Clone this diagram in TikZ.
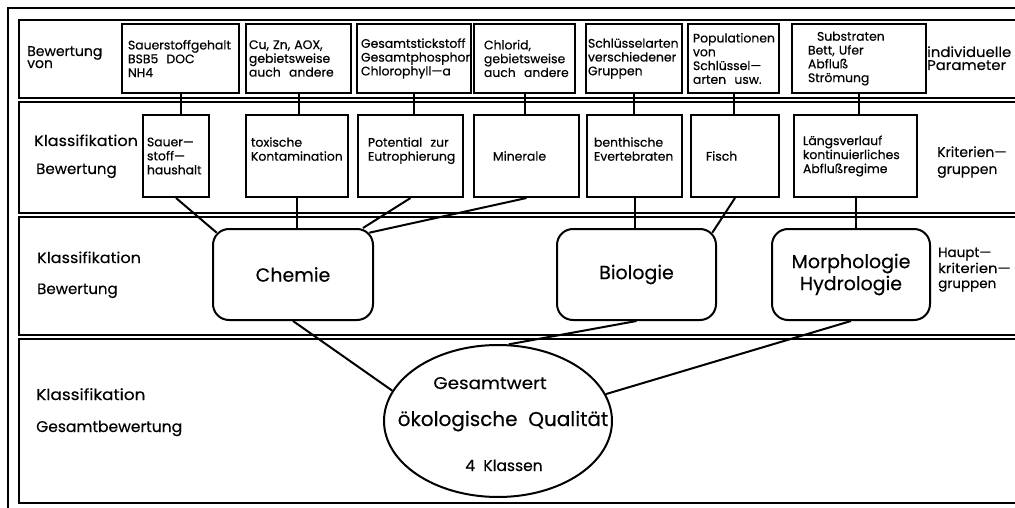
\documentclass[tikz,border=0pt]{standalone}
\usepackage{graphicx}
\usepackage{fontspec}
\setmainfont{Poppins}[FakeBold=0.25]
\newfontfamily\boxfont{Poppins}[FakeBold=0.45]
\usetikzlibrary{calc,shapes.geometric}

% horizontal stretch of a single label
\newcommand\hstretch[2]{\scalebox{#1}[1]{#2}}
\newcommand\nohyph{\hyphenpenalty10000\relax}

\tikzset{
  frame/.style={draw, line width=2pt},
  param/.style={draw, rectangle, line width=2pt, minimum height=69pt,
    inner ysep=0pt, align=left,
    font={\boxfont\fontsize{12.4}{13.8}\selectfont\nohyph}},
  crit/.style={draw, rectangle, line width=2pt, minimum height=82pt,
    inner ysep=0pt, align=left,
    font={\boxfont\fontsize{12.4}{14}\selectfont\nohyph}},
  group/.style={draw, rectangle, rounded corners=16pt, line width=2pt,
    minimum height=91pt, align=center, font=\fontsize{19}{22}\selectfont},
  total/.style={draw, ellipse, line width=2pt, inner sep=0pt,
    minimum width=228pt, minimum height=152pt},
  lbl/.style={anchor=base west, inner sep=0pt, font=\fontsize{15}{17}\selectfont},
  lblsmall/.style={anchor=base west, inner sep=0pt, font=\fontsize{14}{16}\selectfont},
  lbltiny/.style={anchor=base west, inner sep=0pt, font=\fontsize{13.5}{15}\selectfont},
  intext/.style={anchor=base, inner sep=0pt},
  link/.style={line width=2pt}
}

\begin{document}
\begin{tikzpicture}[x=1pt, y=-1pt]
\useasboundingbox (0,0) rectangle (1015,508);
\clip (0,0) rectangle (1015,508);

% outer frame and the four horizontal bands
\draw[frame] (8,8) rectangle (1040,530);
\draw[frame] (19,20)  rectangle (1040,98);
\draw[frame] (19,102) rectangle (1040,213);
\draw[frame] (19,217) rectangle (1040,335);
\draw[frame] (19,339) rectangle (1040,503);

% band 1: individual parameters
\node[param, minimum width=117pt, text width=105pt, inner xsep=6pt]  (p1) at (180.5,58.5) {Sauerstoffgehalt\\BSB5~~DOC\\NH4};
\node[param, minimum width=105pt, text width=99pt,  inner xsep=3pt]  (p2) at (298.5,58.5) {Cu,~Zn,~AOX,\\gebietsweise\\auch~~andere};
\node[param, minimum width=114pt, text width=106pt, inner xsep=4pt]  (p3) at (414,58.5)   {Gesamtstickstoff\\Gesamtphosphor\\Chlorophyll\textemdash a};
\node[param, minimum width=101pt, text width=81pt,  inner xsep=10pt] (p4) at (524.5,58.5) {Chlorid,\\gebietsweise\\auch~~andere};
\node[param, minimum width=96pt,  text width=92pt,  inner xsep=2pt]  (p5) at (634,58.5)   {Schlüsselarten\\verschiedener\\Gruppen};
\node[param, minimum width=91pt,  text width=81pt,  inner xsep=5pt]  (p6) at (733.5,58.5) {Populationen\\von\\Schlüssel\textemdash\\arten~~usw.};
\node[param, minimum width=134pt, text width=102pt, inner xsep=16pt] (p7) at (859,58.5)   {\hspace*{9pt}Substraten\\Bett,~Ufer\\Abfluß\\Strömung};

\node[lblsmall] (t1a) at (27,56) {Bewertung};
\node[lblsmall] (t1b) at (27,68) {von};
\node[lblsmall] (t1c) at (927,57) {\hstretch{1.06}{individuelle}};
\node[lblsmall] (t1d) at (927,70) {\hstretch{1.06}{Parameter}};

% band 2: criteria groups
\node[crit, minimum width=66pt,  text width=58pt,  inner xsep=4pt]  (c1) at (176,156)   {Sauer\textemdash\\stoff\textemdash\\haushalt};
\node[crit, minimum width=102pt, text width=92pt,  inner xsep=5pt]  (c2) at (297,156)   {toxische\\Kontamination\\\mbox{}};
\node[crit, minimum width=105pt, text width=85pt,  inner xsep=10pt] (c3) at (410.5,156) {Potential~~zur\\Eutrophierung\\\mbox{}};
\node[crit, minimum width=105pt, text width=67pt,  inner xsep=19pt] (c4) at (526.5,156) {Minerale};
\node[crit, minimum width=95pt,  text width=81pt,  inner xsep=7pt]  (c5) at (634.5,156) {benthische\\Evertebraten\\\mbox{}};
\node[crit, minimum width=88pt,  text width=58pt,  inner xsep=15pt] (c6) at (735,156)   {Fisch};
\node[crit, minimum width=123pt, text width=105pt, inner xsep=9pt]  (c7) at (855.5,156) {Längsverlauf\\kontinuierliches\\Abflußregime};

\node[lbl] (t2a) at (34,146) {\hstretch{1.07}{Klassifikation}};
\node[lbl] (t2b) at (36,174) {Bewertung};
\node[lblsmall] (t2c) at (937,157) {Kriterien\textemdash};
\node[lblsmall] (t2d) at (937,174) {gruppen};

% band 3: main criteria groups
\node[group, minimum width=160pt] (chemie) at (293,274.5)   {Chemie};
\node[group, minimum width=159pt] (bio)    at (636.5,274.5) {Biologie};
\node[group, minimum width=158pt] (morph)  at (851,274.5)   {Morphologie\\Hydrologie};

\node[lbl] (t3a) at (37,263) {\hstretch{1.07}{Klassifikation}};
\node[lbl] (t3b) at (37,294) {Bewertung};
\node[lbltiny] (t3c) at (938,257) {Haupt\textemdash};
\node[lbltiny] (t3d) at (938,273) {\hstretch{1.1}{kriterien\textemdash}};
\node[lbltiny] (t3e) at (938,288) {gruppen};

% band 4: overall assessment
\node[total] (ges) at (498,421) {};
\node[intext, font=\fontsize{17}{19}\selectfont] (g1) at (490,389) {\hstretch{1.08}{Gesamtwert}};
\node[intext, font=\fontsize{20}{22}\selectfont] (g2) at (503,426) {ökologische~~Qualität};
\node[intext, font=\fontsize{15.5}{17}\selectfont] (g3) at (504,471) {4~~Klassen};

\node[lbl, font=\fontsize{15.5}{17}\selectfont] (t4a) at (36,400) {\hstretch{1.09}{Klassifikation}};
\node[lbl, font=\fontsize{15.5}{17}\selectfont] (t4b) at (36,432) {Gesamtbewertung};

% connectors: parameters to criteria groups
\foreach \a/\b in {p1/c1, p2/c2, p3/c3, p4/c4, p5/c5, p6/c6, p7/c7}
  \draw[link] (\a.south) -- (\a.south |- \b.north);

% connectors: criteria groups to main groups
\draw[link] (c1.south) -- ($(chemie.north west)+(4.7,4.7)$);
\draw[link] (c2.south) -- (c2.south |- chemie.north);
\draw[link] (c3.south) -- ($(chemie.north east)+(-11,0)$);
\draw[link] (c4.south) -- ($(chemie.north east)+(-4.7,4.7)$);
\draw[link] (c5.south) -- (c5.south |- bio.north);
\draw[link] (c6.south) -- ($(bio.north east)+(-4.7,4.7)$);
\draw[link] (c7.south) -- (c7.south |- morph.north);

% connectors: main groups to overall value
\draw[link] (chemie.south) -- (ges.164);
\draw[link] (bio.south) -- (ges.82);
\draw[link] (morph.south) -- (ges.14);
\end{tikzpicture}
\end{document}
